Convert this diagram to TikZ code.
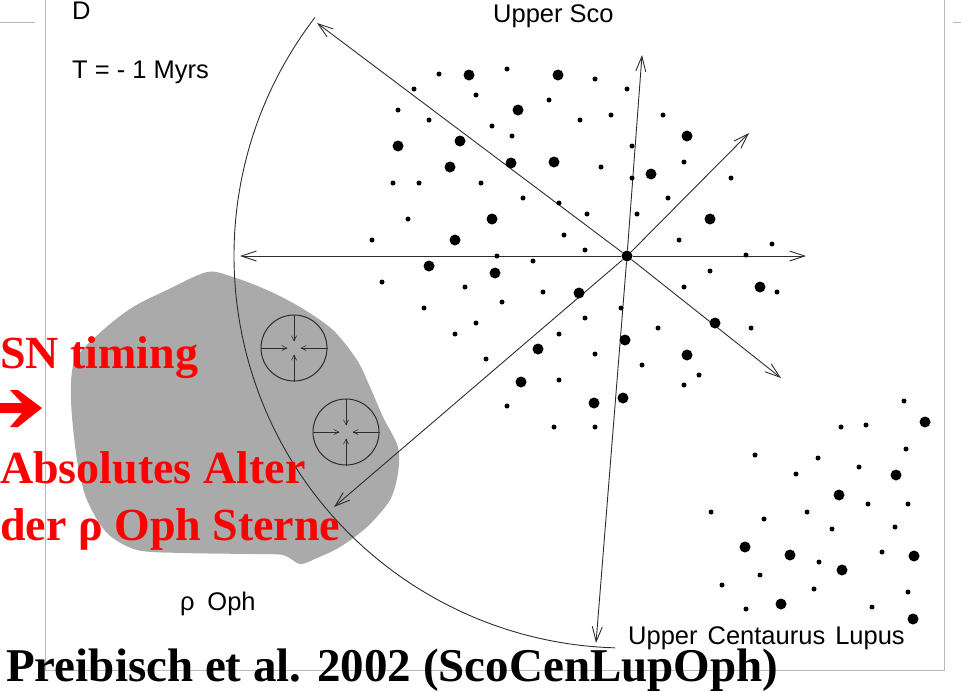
\documentclass[tikz,border=0pt]{standalone}
\usepackage{fontspec}
\setmainfont{Liberation Serif}
\setsansfont{Liberation Sans}
\usetikzlibrary{arrows.meta}

\definecolor{cloud}{RGB}{170,170,170}
\definecolor{ink}{RGB}{45,45,45}
\definecolor{rim}{RGB}{185,185,185}

\begin{document}
\begin{tikzpicture}[x=1pt,y=-1pt]

\tikzset{burst/.style = {draw=ink, line width=0.9pt, -{Straight Barb[length=15pt,width=10pt]}}}
\tikzset{squeeze/.style = {draw=ink, line width=0.6pt, -{Straight Barb[length=5pt,width=5pt]}}}
\tikzset{core/.style = {shape=circle, draw=ink, line width=1pt, minimum size=66pt, inner sep=0}}
\tikzset{lbl/.style = {anchor=base west, inner sep=0, font=\sffamily\fontsize{25.5}{25.5}\selectfont}}
\tikzset{note/.style = {anchor=base west, inner sep=0, text=red, font=\bfseries\fontsize{46}{46}\selectfont}}

\useasboundingbox (0,0) rectangle (961,691);

% frame
\draw[rim, line width=1pt] (45,0) -- (45,670) -- (944,670) -- (944,0);
\draw[rim, line width=1pt] (0,22) -- (35,22);
\draw[rim, line width=1pt] (953,22) -- (961,22);

% rho Oph cloud
\fill[cloud] plot[smooth cycle, tension=0.5] coordinates {
  (207,272) (233,277) (267,290) (300,307) (333,330) (357,360) (370,387)
  (383,417) (398,447) (398,473) (390,500) (367,527) (340,547) (317,558)
  (300,564) (283,555) (250,554) (183,553) (137,550) (107,533) (87,500)
  (77,460) (71,400) (75,360) (103,330) (133,307) (167,290)};

% shock front
\draw[ink, line width=0.9pt] (626,256) ++(217.5:392) arc[start angle=217.5, end angle=91.6, radius=392];

% Upper Sco centre and expansion
\node[shape=circle, fill=black, inner sep=0, minimum size=11pt] (usc) at (627,256) {};
\foreach \n/\x/\y in {n/642/55, ne/749/133, e/806/256, se/781/378,
                      s/596/643, sw/334/507, w/240/256, nw/317/23} {
  \coordinate (tip\n) at (\x,\y);
  \draw[burst] (usc) -- (tip\n);
}

% stars, small
\foreach \x/\y in {439/74, 507/69, 414/89, 476/95, 549/100, 398/110, 429/120, 580/120,
  492/126, 512/136, 393/183, 419/183, 481/183, 523/198, 559/203, 408/219, 372/240,
  564/235, 595/79, 627/89, 611/115, 663/115, 632/146, 684/162, 601/167, 632/178,
  731/178, 668/198, 587/214, 637/214, 679/240, 772/244, 497/256, 533/261, 382/282,
  465/287, 543/292, 502/302, 424/308, 476/323, 455/334, 559/334, 486/359, 559/380,
  507/406, 554/427, 585/250, 746/255, 710/271, 684/287, 777/292, 621/308, 585/318,
  658/328, 751/328, 595/354, 642/365, 699/375, 684/385, 595/427,
  904/401, 841/427, 866/425, 906/449, 755/455, 818/458, 859/467, 796/474, 868/504,
  908/504, 711/512, 807/512, 764/519, 832/529, 895/527, 882/552, 819/562, 760/575,
  722/585, 814/589, 908/592, 746/609, 872/607}
  \fill (\x,\y) circle (2.5);

% stars, bright
\foreach \x/\y in {469/75, 558/75, 518/110, 460/141, 398/146, 511/163, 554/162, 450/167,
  492/219, 455/240, 687/136, 651/174, 710/219, 429/266, 495/273, 579/293, 538/349,
  521/382, 760/287, 715/323, 625/340, 687/355, 594/403, 623/398,
  925/422, 896/475, 839/495, 745/547, 790/555, 914/556, 842/570, 781/604, 913/619}
  \fill (\x,\y) circle (5.5);

% collapsing cores
\node[core] (c1) at (294,348) {};
\node[core] (c2) at (346,432) {};
\foreach \c in {c1,c2} {
  \draw[squeeze] (\c.north) -- ++(0,27);
  \draw[squeeze] (\c.south) -- ++(0,-27);
  \draw[squeeze] (\c.west) -- ++(27,0);
  \draw[squeeze] (\c.east) -- ++(-27,0);
}

% labels
\node[lbl] (panel) at (72,19) {D};
\node[lbl] (time) at (72,78) {T = - 1 Myrs};
\node[lbl] (usco) at (493,22) {Upper Sco};
\node[lbl] (roph) at (180,610) {ρ\hspace{0.5em}Oph};
\node[lbl] (ucl) at (628,644) {Upper\hspace{10pt}Centaurus\hspace{10pt}Lupus};

% remarks
\node[note] (sn) at (0,368) {SN timing};
\fill[red] (-2,403) -- (22,403) -- (10,390) -- (18,390) -- (42,408) -- (18,427)
  -- (10,427) -- (22,413) -- (-2,413) -- cycle;
\node[note] (age) at (0,483) {Absolutes Alter};
\node[note] (ophage) at (0,540) {der ρ Oph Sterne};
\node[anchor=base west, inner sep=0, font=\bfseries\fontsize{47}{47}\selectfont] (ref)
  at (6,681) {Preibisch et al. 2002 (ScoCenLupOph)};

\end{tikzpicture}
\end{document}
